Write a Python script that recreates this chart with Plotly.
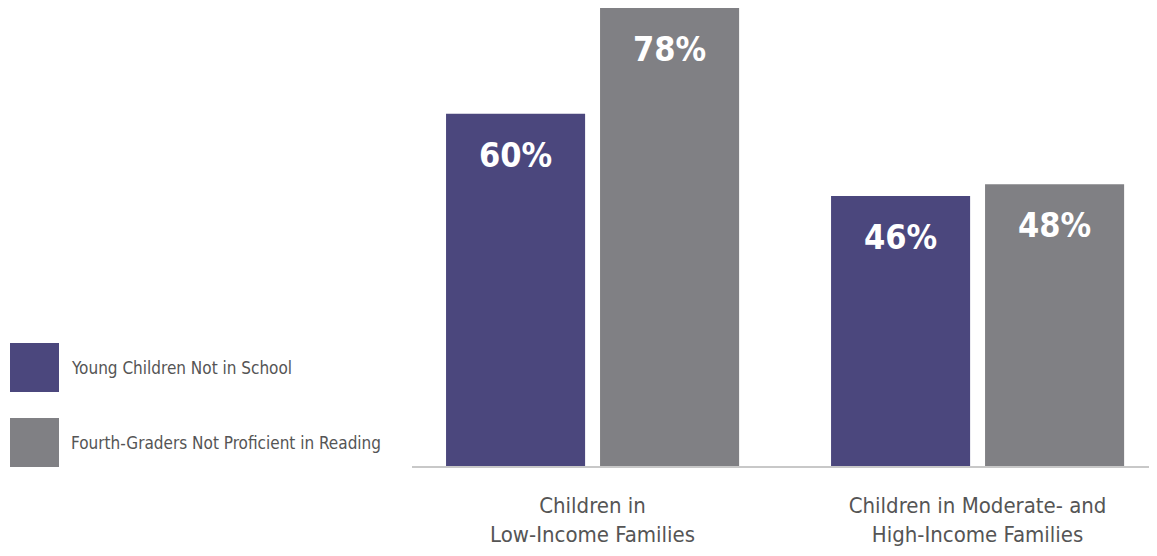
import plotly.graph_objects as go

categories = ["Children in<br>Low-Income Families", "Children in Moderate- and<br>High-Income Families"]
series_names = ["Young Children Not in School", "Fourth-Graders Not Proficient in Reading"]
not_in_school = [60, 46]
not_proficient = [78, 48]
colors = ["#4b477d", "#808084"]

FONT = "DejaVu Sans Condensed, Liberation Sans Narrow, Roboto"

# page has an 8px body margin: figure is drawn at (8, 8)
W, H = 1149, 548
L, B = 404, 90
PW, PH = W - L, H - B

fig = go.Figure()
for name, vals, col in zip(series_names, [not_in_school, not_proficient], colors):
    fig.add_trace(go.Bar(x=categories, y=vals, name=name, marker_color=col,
                         marker_line_width=0, showlegend=False))

# value labels
for vals, shift in [(not_in_school, -77), (not_proficient, 77)]:
    for c, v in zip(categories, vals):
        fig.add_annotation(x=c, y=v, xshift=shift, yshift=-19, yanchor="top",
                           text=f"<b>{v}%</b>", showarrow=False,
                           font=dict(family=FONT, size=34, color="white"))

# legend
for i, (name, col) in enumerate(zip(series_names, colors)):
    y0 = 343 - 8 + i * 75
    fig.add_shape(type="rect", xref="paper", yref="paper",
                  x0=(10 - 8 - L) / PW, x1=(59 - 8 - L) / PW,
                  y0=(PH - y0 - 49) / PH, y1=(PH - y0) / PH,
                  fillcolor=col, line_width=0)
    fig.add_annotation(xref="paper", yref="paper", x=(69 - 8 - L) / PW,
                       y=(PH - y0 - 24.5) / PH, xanchor="left", yanchor="middle",
                       text=name, showarrow=False,
                       font=dict(family=FONT, size=17, color="#555555"))

fig.update_layout(
    width=W, height=H,
    margin=dict(l=L, r=0, t=0, b=B),
    plot_bgcolor="white", paper_bgcolor="white",
    barmode="group", bargap=0.2, bargroupgap=0.097,
    font=dict(family=FONT, color="#555555"),
)
fig.update_xaxes(range=[-0.469, 1.466], showline=True, linecolor="#c8c8c8", linewidth=2,
                 ticks="", ticklabelstandoff=19,
                 tickfont=dict(family=FONT, size=22, color="#555555"))
fig.update_yaxes(range=[0, 78], visible=False, showgrid=False)

fig.write_html("out.html")
